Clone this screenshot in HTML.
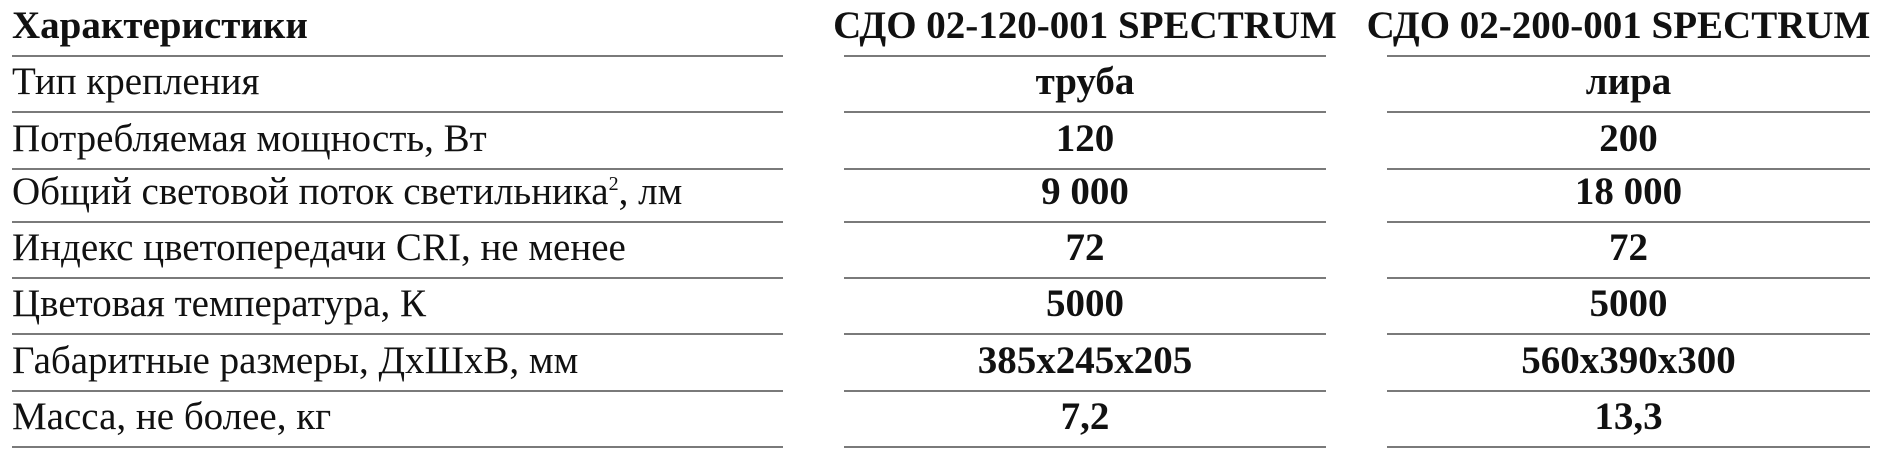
<!DOCTYPE html>
<html><head><meta charset="utf-8"><style>
body{margin:0;width:1900px;height:458px;background:#fff;position:relative;overflow:hidden;font-family:"Liberation Serif","Noto Serif CJK SC",serif;color:#111}
.t{position:absolute;font-size:39px;line-height:1;white-space:nowrap}
.b{font-weight:bold}
.c{text-align:center}
.ln{position:absolute;height:2px;background:#7a7a7a}
</style></head><body>
<div id="root"></div>
<script>
const rows=["Характеристики","Тип крепления","Потребляемая мощность, Вт","Общий световой поток светильника<sup style=\"font-size:20px\">2</sup>, лм","Индекс цветопередачи CRI, не менее","Цветовая температура, К","Габаритные размеры, ДхШхВ, мм","Масса, не более, кг"];
const col2=["СДО 02-120-001 SPECTRUM","труба","120","9 000","72","5000","385x245x205","7,2"];
const col3=["СДО 02-200-001 SPECTRUM","лира","200","18 000","72","5000","560x390x300","13,3"];
const root=document.getElementById('root');
const lineY=[56,112,169,222,278,334,391,447];
const cols=[[12,783],[844,1326],[1387,1870]];
for(let i=0;i<rows.length;i++){
  const base=lineY[i]-50;
  const a=document.createElement('div');
  a.className='t'+(i==0?' b':'');a.style.left='12px';a.style.top=base+'px';a.innerHTML=rows[i];
  
  
  root.appendChild(a);
  [[col2,cols[1]],[col3,cols[2]]].forEach(([arr,c],k)=>{
    const d=document.createElement('div');
    d.className='t b c';
    const cx=(c[0]+c[1])/2 - (i==0&&k==1?10:0);
    d.style.left=(cx-300)+'px';d.style.width='600px';d.style.top=base+'px';
    d.textContent=arr[i];
    
    
    root.appendChild(d);
  });
  cols.forEach(c=>{
    const l=document.createElement('div');
    l.className='ln';l.style.left=c[0]+'px';l.style.width=(c[1]-c[0])+'px';l.style.top=(lineY[i]-1)+'px';
    
    
    root.appendChild(l);
  });
}
</script>
</body></html>
